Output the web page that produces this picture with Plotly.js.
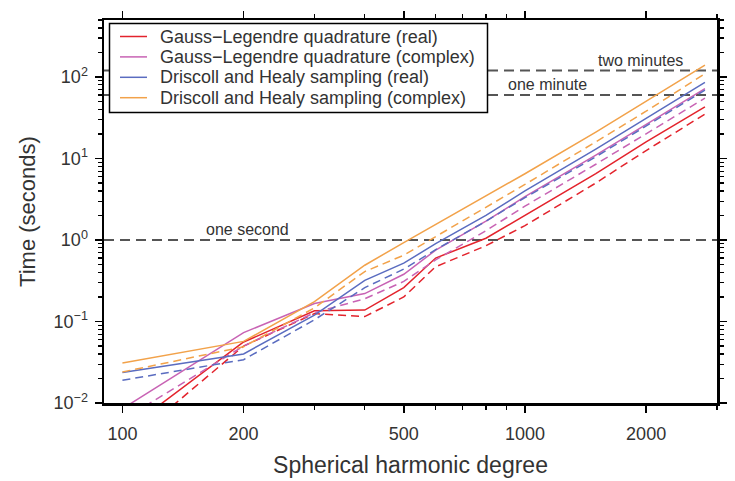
<!DOCTYPE html>
<html>
<head>
<meta charset="utf-8">
<script src="https://cdn.plot.ly/plotly-3.0.1.min.js"></script>
<style>
  html, body { margin: 0; padding: 0; background: #fff; }
  #chart { width: 735px; height: 481px; }
</style>
</head>
<body>
<div id="chart"></div>
<script>
// Spherical harmonic degree at which each timing was taken
const degrees = [100, 200, 300, 400, 500, 600, 800, 1000, 1500, 2000, 2800];

// Timings in seconds: solid and dashed variants of each method
const glqRealSolid     = [0.0043, 0.056, 0.135, 0.138, 0.26, 0.60, 1.05, 2.0, 6.5, 16, 43];
const glqRealDashed    = [0.0028, 0.050, 0.125, 0.115, 0.20, 0.47, 0.85, 1.5, 5.0, 12.5, 35];
const glqComplexSolid  = [0.0085, 0.073, 0.166, 0.22, 0.38, 0.75, 1.7, 3.4, 11, 26, 72];
const glqComplexDashed = [0.0062, 0.050, 0.128, 0.19, 0.31, 0.57, 1.3, 2.6, 8.5, 20, 55];
const dhRealSolid      = [0.0236, 0.040, 0.12, 0.32, 0.52, 0.90, 2.0, 4.0, 13, 31, 86];
const dhRealDashed     = [0.019, 0.034, 0.105, 0.26, 0.44, 0.76, 1.7, 3.3, 10.5, 25, 69];
const dhComplexSolid   = [0.031, 0.057, 0.175, 0.49, 0.93, 1.55, 3.5, 6.5, 21, 50, 140];
const dhComplexDashed  = [0.024, 0.049, 0.147, 0.41, 0.65, 1.10, 2.5, 4.8, 16, 38, 110];

const seriesNames = [
  'Gauss\u2212Legendre quadrature (real)',
  'Gauss\u2212Legendre quadrature (complex)',
  'Driscoll and Healy sampling (real)',
  'Driscoll and Healy sampling (complex)'
];

// Reference durations (seconds) and their labels
const refLevels = [1, 60, 120];
const refLabels = ['one second', 'one minute', 'two minutes'];

// Axis ticks
const xTickVals = [100, 200, 500, 1000, 2000];
const xTickText = ['100', '200', '500', '1000', '2000'];
const xMinorVals = [300, 400, 600, 700, 800, 900, 3000];
const yTickVals = [0.01, 0.1, 1, 10, 100];
const yTickText = ['10<sup>\u22122</sup>', '10<sup>\u22121</sup>', '10<sup>0</sup>', '10<sup>1</sup>', '10<sup>2</sup>'];
const yMinorMantissas = [2, 3, 4, 5, 6, 7, 8, 9];

const colors = ['#e3232c', '#c863b4', '#5a6cc0', '#f2a24a'];
const FONT = 'Liberation Sans, Arial, Helvetica, sans-serif';
const TEXT = '#333333';

const solidSets = [glqRealSolid, glqComplexSolid, dhRealSolid, dhComplexSolid];
const dashedSets = [glqRealDashed, glqComplexDashed, dhRealDashed, dhComplexDashed];

const X_MIN = 90, X_MAX = 3000;

const traces = [];

// horizontal reference lines
refLevels.forEach(function (lv) {
  traces.push({
    x: [X_MIN, X_MAX], y: [lv, lv], mode: 'lines', hoverinfo: 'skip', showlegend: false,
    line: { color: '#555555', width: 2, dash: '10px,6px' }
  });
});

solidSets.forEach(function (ys, i) {
  traces.push({
    x: degrees, y: ys, mode: 'lines', name: seriesNames[i], showlegend: false,
    line: { color: colors[i], width: 1.5 }
  });
  traces.push({
    x: degrees, y: dashedSets[i], mode: 'lines', name: seriesNames[i] + ' \u2013 dashed', showlegend: false,
    line: { color: colors[i], width: 1.5, dash: '8px,5px' }
  });
});

// minor y ticks: 2..9 in every decade inside the plotted range
const yMinorVals = [];
yTickVals.forEach(function (d) {
  yMinorMantissas.forEach(function (m) { if (m * d <= 500) yMinorVals.push(m * d); });
});

// plot area geometry in pixels, used to place the key box
const W = 735, H = 481, ML = 104, MR = 18, MT = 20, MB = 78;
const PW = W - ML - MR, PH = H - MT - MB;
function px(xp) { return (xp - ML) / PW; }
function py(yp) { return (H - MB - yp) / PH; }

const shapes = [];
const annotations = [];

// key: framed box, line samples and labels
shapes.push({
  type: 'rect', xref: 'paper', yref: 'paper', layer: 'above',
  x0: px(109.5), x1: px(487.5), y0: py(112.5), y1: py(23.5),
  line: { color: '#000', width: 1.5 }, fillcolor: '#ffffff'
});
seriesNames.forEach(function (nm, i) {
  const rowY = 36.5 + i * 20.4;
  shapes.push({
    type: 'line', xref: 'paper', yref: 'paper', layer: 'above',
    x0: px(120), x1: px(147), y0: py(rowY), y1: py(rowY),
    line: { color: colors[i], width: 1.5 }
  });
  annotations.push({
    xref: 'paper', yref: 'paper', x: px(158), y: py(rowY), xanchor: 'left', yanchor: 'middle',
    text: nm, showarrow: false, font: { family: FONT, size: 18, color: TEXT }
  });
});

// labels for the reference durations
const refLabelX = [204, 1135, 1932];
refLevels.forEach(function (lv, i) {
  annotations.push({
    xref: 'x', yref: 'y', x: Math.log10(refLabelX[i]), y: Math.log10(lv),
    xanchor: 'center', yanchor: 'bottom', yshift: 0,
    text: refLabels[i], showarrow: false, font: { family: FONT, size: 16, color: TEXT }
  });
});

const axisCommon = {
  ticks: 'outside', tickcolor: '#000', tickwidth: 1.5, ticklen: 7,
  showline: true, linecolor: '#000', linewidth: 2.5, mirror: 'allticks',
  showgrid: false, zeroline: false,
  tickfont: { family: FONT, size: 18, color: TEXT }
};

const layout = {
  width: W, height: H,
  margin: { l: ML, r: MR, t: MT, b: MB },
  paper_bgcolor: '#fff', plot_bgcolor: '#fff',
  font: { family: FONT, color: TEXT },
  showlegend: false,
  xaxis: Object.assign({}, axisCommon, {
    type: 'log', range: [Math.log10(X_MIN), Math.log10(X_MAX)],
    tickmode: 'array', tickvals: xTickVals, ticktext: xTickText, ticklabelstandoff: 6,
    minor: { tickmode: 'array', tickvals: xMinorVals, ticks: 'outside', ticklen: 4, tickwidth: 1.2, tickcolor: '#000', showgrid: false },
    title: { text: 'Spherical harmonic degree', font: { family: FONT, size: 23, color: TEXT }, standoff: 14 }
  }),
  yaxis: Object.assign({}, axisCommon, {
    type: 'log', range: [-2, Math.log10(500)],
    tickmode: 'array', tickvals: yTickVals, ticktext: yTickText, ticklabelstandoff: 3,
    minor: { tickmode: 'array', tickvals: yMinorVals, ticks: 'outside', ticklen: 4, tickwidth: 1.2, tickcolor: '#000', showgrid: false },
    title: { text: 'Time (seconds)', font: { family: FONT, size: 22, color: TEXT }, standoff: 12 }
  }),
  shapes: shapes,
  annotations: annotations
};

Plotly.newPlot('chart', traces, layout, { staticPlot: true, displayModeBar: false });
</script>
</body>
</html>
